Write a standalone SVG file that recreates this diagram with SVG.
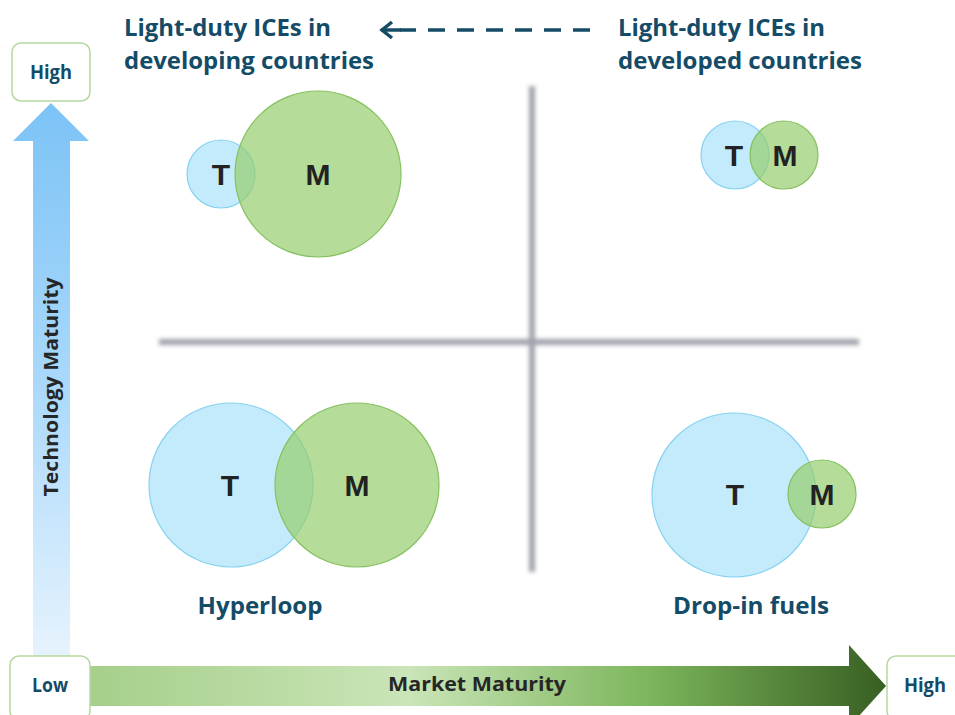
<svg xmlns="http://www.w3.org/2000/svg" width="955" height="715" viewBox="0 0 955 715">
<defs>
<linearGradient id="gUp" x1="0" y1="0" x2="0" y2="1">
<stop offset="0" stop-color="#7cc3f6"/>
<stop offset="0.5" stop-color="#a9d8fb"/>
<stop offset="1" stop-color="#e6f3fd"/>
</linearGradient>
<linearGradient id="gRight" gradientUnits="userSpaceOnUse" x1="90" y1="0" x2="886" y2="0">
<stop offset="0" stop-color="#a6cf8a"/>
<stop offset="0.4" stop-color="#cae5b8"/>
<stop offset="0.7" stop-color="#7db65c"/>
<stop offset="1" stop-color="#375f22"/>
</linearGradient>
<filter id="blur" filterUnits="userSpaceOnUse" x="140" y="70" width="740" height="520">
<feGaussianBlur stdDeviation="2.3"/>
</filter>
<style>
.title{font-family:"Open Sans",Lato,"Liberation Sans",sans-serif;font-weight:bold;font-size:24px;fill:#144b67}
.lbl{font-family:"Open Sans",Lato,"Liberation Sans",sans-serif;font-weight:bold;font-size:19px;fill:#144b67;text-anchor:middle}
.axis{font-family:"Open Sans",Lato,"Liberation Sans",sans-serif;font-weight:bold;font-size:19px;fill:#262626;text-anchor:middle}
.name{font-family:"Open Sans",Lato,"Liberation Sans",sans-serif;font-weight:bold;font-size:23px;fill:#144b67;text-anchor:middle}
.tm{font-family:"Liberation Sans",Arial,sans-serif;font-weight:bold;font-size:30px;fill:#222;text-anchor:middle}
.t{fill:#c3ebfb;stroke:#86d2f0;stroke-width:1.2}
.m{fill:#95cd6c;fill-opacity:0.7;stroke:#86c160;stroke-width:1.2}
.box{fill:#fff;stroke:#b5d99c;stroke-width:1.5}
.grid{fill:#9ea2aa;filter:url(#blur)}
</style>
</defs>

<g id="grid-lines">
<rect class="grid" x="529" y="86" width="6" height="486"/>
<rect class="grid" x="159" y="339" width="700" height="6"/>
</g>

<g id="axis-tech">
<polygon points="51,103 89,141 70,141 70,656 33,656 33,141 13,141" fill="url(#gUp)"/>
<text class="axis" transform="translate(58,387) rotate(-90)" textLength="219" lengthAdjust="spacingAndGlyphs">Technology Maturity</text>
</g>

<g id="axis-market">
<polygon points="90,666 849,666 849,645 886,686 849,727 849,706 90,706" fill="url(#gRight)"/>
<text class="axis" x="477" y="691" textLength="178" lengthAdjust="spacingAndGlyphs">Market Maturity</text>
</g>

<g id="box-high-tech">
<rect class="box" x="12" y="43" width="78" height="58" rx="9"/>
<text class="lbl" x="51" y="79" textLength="42" lengthAdjust="spacingAndGlyphs">High</text>
</g>
<g id="box-low">
<rect class="box" x="10" y="656" width="80" height="64" rx="9"/>
<text class="lbl" x="50" y="692" textLength="36" lengthAdjust="spacingAndGlyphs">Low</text>
</g>
<g id="box-high-market">
<rect class="box" x="887" y="656" width="80" height="64" rx="9"/>
<text class="lbl" x="925" y="692" textLength="42" lengthAdjust="spacingAndGlyphs">High</text>
</g>

<g id="title-developing">
<text class="title" x="124" y="36" textLength="207" lengthAdjust="spacingAndGlyphs">Light-duty ICEs in</text>
<text class="title" x="124" y="69" textLength="250" lengthAdjust="spacingAndGlyphs">developing countries</text>
</g>
<g id="title-developed">
<text class="title" x="618" y="36" textLength="207" lengthAdjust="spacingAndGlyphs">Light-duty ICEs in</text>
<text class="title" x="618" y="69" textLength="244" lengthAdjust="spacingAndGlyphs">developed countries</text>
</g>

<g id="connectors">
<line x1="590" y1="30" x2="400" y2="30" stroke="#144b67" stroke-width="3.5" stroke-dasharray="17 12"/>
<line x1="381" y1="30" x2="401" y2="30" stroke="#144b67" stroke-width="3.5"/>
<polyline points="392,22 382,30 392,38" fill="none" stroke="#144b67" stroke-width="3.5" stroke-linejoin="miter"/>
</g>

<g id="q-top-left">
<circle class="t" cx="221" cy="174" r="34"/>
<circle class="m" cx="318" cy="174" r="83"/>
<text class="tm" x="221" y="185">T</text>
<text class="tm" x="318" y="185">M</text>
</g>

<g id="q-top-right">
<circle class="t" cx="735" cy="155" r="34"/>
<circle class="m" cx="784" cy="155" r="34"/>
<text class="tm" x="734" y="166">T</text>
<text class="tm" x="785" y="166">M</text>
</g>

<g id="q-bottom-left">
<circle class="t" cx="231" cy="485" r="82"/>
<circle class="m" cx="357" cy="485" r="82"/>
<text class="tm" x="230" y="496">T</text>
<text class="tm" x="357" y="496">M</text>
<text class="name" x="260" y="614" textLength="125" lengthAdjust="spacingAndGlyphs">Hyperloop</text>
</g>

<g id="q-bottom-right">
<circle class="t" cx="734" cy="495" r="82"/>
<circle class="m" cx="822" cy="494" r="34"/>
<text class="tm" x="735" y="505">T</text>
<text class="tm" x="822" y="505">M</text>
<text class="name" x="751" y="614" textLength="156" lengthAdjust="spacingAndGlyphs">Drop-in fuels</text>
</g>
</svg>
